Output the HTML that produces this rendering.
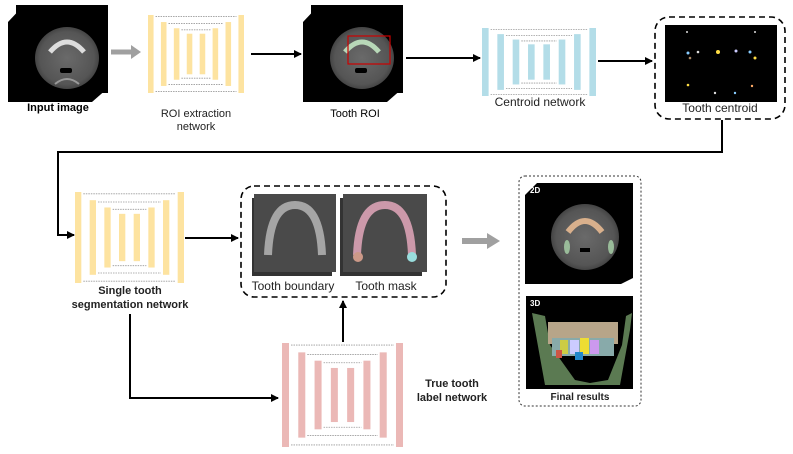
<!DOCTYPE html>
<html><head><meta charset="utf-8"><style>
body{margin:0;background:#fff}
svg{display:block;font-family:"Liberation Sans",sans-serif}
</style></head><body>
<svg width="793" height="454" viewBox="0 0 793 454">
<defs>
<marker id="ah" markerWidth="8" markerHeight="8" refX="7" refY="4" orient="auto" markerUnits="userSpaceOnUse"><path d="M0,0 L8,4 L0,8 z" fill="#000"/></marker>
<radialGradient id="ct" cx="50%" cy="50%" r="50%"><stop offset="0" stop-color="#6a6a6a"/><stop offset="0.85" stop-color="#555"/><stop offset="1" stop-color="#444"/></radialGradient>
</defs>

<g>
<path d="M8,22 L24,5 L108,5 L108,88 L92,102 L8,102 Z" fill="#000"/>
<rect x="16" y="5" width="92" height="88" fill="#000"/>
<ellipse cx="67" cy="58" rx="32" ry="31" fill="url(#ct)"/>
<path d="M50,52 Q67,32 84,52" stroke="#ddd" stroke-width="5" fill="none"/>
<rect x="60" y="68" width="12" height="5" rx="2" fill="#000"/>
<path d="M55,84 Q67,74 79,84" stroke="#999" stroke-width="2" fill="none"/>
</g>
<text x="58" y="111" font-size="11" font-weight="bold" text-anchor="middle">Input image</text>

<g>
<path d="M303,22 L319,5 L403,5 L403,88 L387,102 L303,102 Z" fill="#000"/>
<rect x="311" y="5" width="92" height="88" fill="#000"/>
<ellipse cx="362" cy="58" rx="32" ry="31" fill="url(#ct)"/>
<path d="M345,52 Q362,32 379,52" stroke="#b8d8b8" stroke-width="5" fill="none"/>
<rect x="355" y="68" width="12" height="5" rx="2" fill="#000"/>
<rect x="348" y="36" width="42" height="28" fill="none" stroke="#c00" stroke-width="1.2"/>
</g>
<text x="355" y="117" font-size="11" text-anchor="middle">Tooth ROI</text>

<g id="nets"></g>

<text x="196" y="117" font-size="11" fill="#222" text-anchor="middle"><tspan x="196">ROI extraction</tspan><tspan x="196" dy="13">network</tspan></text>
<text x="540" y="106" font-size="12" fill="#222" text-anchor="middle">Centroid network</text>

<rect x="655" y="17" width="130" height="102" rx="14" fill="none" stroke="#000" stroke-width="1.6" stroke-dasharray="6,4"/>
<rect x="665" y="25" width="112" height="77" fill="#000"/>
<g fill="#ddd">
<circle cx="688" cy="53" r="1.5" fill="#8cf"/><circle cx="698" cy="52" r="1.3"/><circle cx="718" cy="52" r="2" fill="#fd4"/><circle cx="736" cy="51" r="1.5" fill="#ccf"/><circle cx="750" cy="52" r="1.5" fill="#8cf"/><circle cx="755" cy="58" r="1.5" fill="#fd4"/><circle cx="690" cy="58" r="1.3" fill="#a86"/><circle cx="688" cy="85" r="1.3" fill="#fd4"/><circle cx="715" cy="93" r="1.2"/><circle cx="735" cy="93" r="1.2" fill="#8cf"/><circle cx="752" cy="86" r="1.2" fill="#fa6"/><circle cx="687" cy="32" r="1"/><circle cx="755" cy="32" r="1"/>
</g>
<text x="720" y="112" font-size="12" fill="#222" text-anchor="middle">Tooth centroid</text>

<rect x="241" y="186" width="205" height="111" rx="13" fill="none" stroke="#000" stroke-width="1.6" stroke-dasharray="6,4"/>
<g>
<rect x="252" y="198" width="80" height="78" fill="#333"/>
<rect x="254" y="194" width="82" height="78" fill="#4a4a4a"/>
<path d="M268,255 Q270,205 295,205 Q320,205 322,255" stroke="#bbb" stroke-width="8" fill="none" opacity="0.8"/>
</g>
<g>
<rect x="340" y="198" width="82" height="78" fill="#333"/>
<rect x="343" y="194" width="84" height="78" fill="#4a4a4a"/>
<path d="M357,255 Q359,205 385,205 Q410,205 412,255" stroke="#c9a" stroke-width="8" fill="none"/>
<circle cx="358" cy="257" r="5" fill="#c98"/><circle cx="412" cy="257" r="5" fill="#9dd"/>
</g>
<text x="293" y="290" font-size="12" fill="#222" text-anchor="middle">Tooth boundary</text>
<text x="386" y="290" font-size="12" fill="#222" text-anchor="middle">Tooth mask</text>

<text x="130" y="294" font-size="11" font-weight="bold" fill="#222" text-anchor="middle"><tspan x="130">Single tooth</tspan><tspan x="130" dy="14">segmentation network</tspan></text>
<text x="452" y="387" font-size="11" font-weight="bold" fill="#222" text-anchor="middle"><tspan x="452">True tooth</tspan><tspan x="452" dy="14">label network</tspan></text>

<rect x="519" y="176" width="122" height="230" rx="6" fill="none" stroke="#333" stroke-width="1" stroke-dasharray="2,2"/>
<g>
<path d="M525,195 L537,183 L633,183 L633,278 L621,284 L525,284 Z" fill="#000"/>
<ellipse cx="585" cy="237" rx="34" ry="33" fill="url(#ct)"/>
<path d="M568,232 Q585,210 602,232" stroke="#d9b08c" stroke-width="6" fill="none"/>
<ellipse cx="567" cy="247" rx="3" ry="7" fill="#9b9"/><ellipse cx="611" cy="247" rx="3" ry="7" fill="#9b9"/>
<rect x="580" y="248" width="10" height="4" fill="#000"/>
<text x="530" y="193" font-size="8" font-weight="bold" fill="#fff">2D</text>
</g>
<g>
<rect x="526" y="296" width="107" height="93" fill="#000"/>
<path d="M532,313 L545,316 L550,345 L575,380 L590,383 L608,380 L622,345 L626,316 L632,313 L630,330 L620,385 L545,385 Z" fill="#5b7a52"/>
<rect x="548" y="322" width="70" height="22" fill="#b7a589"/>
<rect x="552" y="338" width="62" height="18" fill="#8aa"/>
<rect x="560" y="340" width="8" height="14" fill="#cc4"/><rect x="570" y="340" width="9" height="14" fill="#ccf"/><rect x="580" y="338" width="9" height="16" fill="#ed3"/><rect x="590" y="340" width="9" height="14" fill="#c9e"/><rect x="575" y="352" width="8" height="8" fill="#28c"/><rect x="556" y="350" width="6" height="8" fill="#c54"/>
<text x="530" y="306" font-size="8" font-weight="bold" fill="#fff">3D</text>
</g>
<text x="580" y="400" font-size="10" font-weight="bold" fill="#222" text-anchor="middle">Final results</text>

<path d="M111,52 H132" stroke="#a0a0a0" stroke-width="5"/>
<path d="M131,45 L141,52 L131,59 Z" fill="#a0a0a0"/>
<path d="M462,241 H488" stroke="#a0a0a0" stroke-width="6"/>
<path d="M487,233 L500,241 L487,249 Z" fill="#a0a0a0"/>
<g stroke="#000" stroke-width="2" fill="none" marker-end="url(#ah)">
<path d="M251,54 H301"/>
<path d="M406,58 H480"/>
<path d="M598,61 H652"/>
<path d="M722,120 V152 H58 V235 H74"/>
<path d="M185,238 H238"/>
<path d="M130,314 V398 H278"/>
<path d="M343,342 V301"/>
</g>
</svg>
<script>
const nets=[
 {name:'roi-extraction-network',x:148,y:15,w:96,h:78,c:'#fde3a0'},
 {name:'centroid-network',x:482,y:28,w:114,h:68,c:'#b3dde8'},
 {name:'segmentation-network',x:75,y:192,w:109,h:91,c:'#fde3a0'},
 {name:'label-network',x:282,y:343,w:121,h:104,c:'#ebb8b6'}
];
const ns='http://www.w3.org/2000/svg';
const g=document.getElementById('nets');
nets.forEach(n=>{
 const grp=document.createElementNS(ns,'g');
 
 
 const bw=n.w*0.058, step=(n.w-bw)/7;
 const insets=[0,0.09,0.17,0.24,0.24,0.17,0.09,0];
 for(let i=0;i<8;i++){
  const r=document.createElementNS(ns,'rect');
  const iy=insets[i]*n.h;
  r.setAttribute('x',n.x+i*step);r.setAttribute('y',n.y+iy);
  r.setAttribute('width',bw);r.setAttribute('height',n.h-2*iy);
  r.setAttribute('fill',n.c);
  
  
  grp.appendChild(r);
 }
 for(let k=0;k<3;k++){
  const iy=[0.02,0.11,0.19][k]*n.h;
  [n.y+iy, n.y+n.h-iy].forEach(yy=>{
   const l=document.createElementNS(ns,'line');
   l.setAttribute('x1',n.x+k*step+bw+2);l.setAttribute('x2',n.x+(7-k)*step-2);
   l.setAttribute('y1',yy);l.setAttribute('y2',yy);
   l.setAttribute('stroke','#999');l.setAttribute('stroke-width','0.8');l.setAttribute('stroke-dasharray','1.5,1');
   
   
   grp.appendChild(l);
  });
 }
 g.appendChild(grp);
});
</script>
</body></html>
